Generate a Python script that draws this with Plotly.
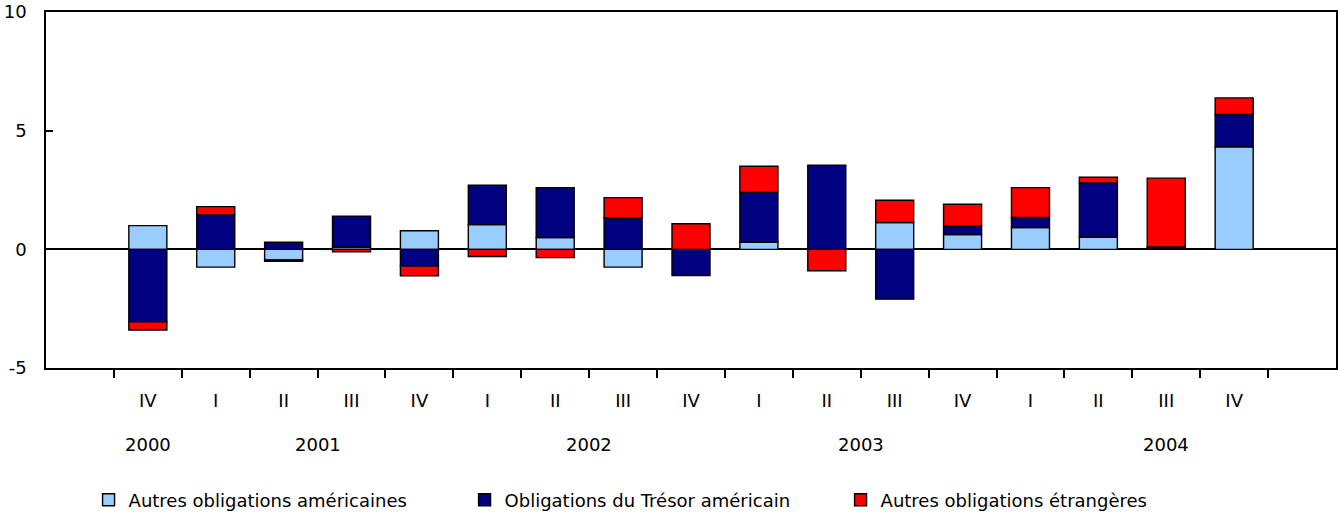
import plotly.graph_objects as go

quarters = ["IV", "I", "II", "III", "IV", "I", "II", "III", "IV",
            "I", "II", "III", "IV", "I", "II", "III", "IV"]
years = ["2000", "2001", "2002", "2003", "2004"]
year_pos = [0, 2.5, 6.5, 10.5, 15]
y_ticks = [-5, 0, 5, 10]
y_ticktext = ["-5", "0", "5", "10"]

autres_us = [1.0, -0.75, -0.45, 0.1, 0.78, 1.04, 0.5, -0.75, 0.0,
             0.3, 0.0, 1.13, 0.62, 0.92, 0.52, 0.05, 4.32]
tresor_us = [-3.05, 1.45, 0.3, 1.3, -0.7, 1.66, 2.1, 1.32, -1.1,
             2.1, 3.55, -2.1, 0.36, 0.42, 2.28, 0.05, 1.36]
autres_etr = [-0.35, 0.35, -0.05, -0.1, -0.42, -0.3, -0.35, 0.86, 1.08,
              1.1, -0.9, 0.94, 0.92, 1.26, 0.24, 2.9, 0.7]

names = ["Autres obligations américaines", "Obligations du Trésor américain",
         "Autres obligations étrangères"]
colors = ["#99CCFF", "#000080", "#FF0000"]
series = [autres_us, tresor_us, autres_etr]

FONT = "DejaVu Sans, Arial, sans-serif"
FS = 18
idx = list(range(len(quarters)))

fig = go.Figure()
for name, col, vals in zip(names, colors, series):
    fig.add_trace(go.Bar(
        x=idx, y=vals, name=name, width=0.56,
        marker=dict(color=col, line=dict(color="black", width=1.4)),
    ))

for yr, pos in zip(years, year_pos):
    fig.add_annotation(x=pos, y=-0.216, xref="x", yref="paper", text=yr,
                       showarrow=False, yanchor="middle", xanchor="center",
                       font=dict(family=FONT, size=FS, color="black"))

fig.update_layout(
    barmode="relative",
    width=1338, height=516,
    margin=dict(l=46, r=2, t=12, b=148, autoexpand=False),
    plot_bgcolor="white", paper_bgcolor="white",
    font=dict(family=FONT, size=FS, color="black"),
    legend=dict(orientation="h", x=0.033, xanchor="left", y=-0.371,
                yanchor="middle", font=dict(family=FONT, size=FS),
                traceorder="normal", entrywidth=331, entrywidthmode="pixels"),
    xaxis=dict(
        range=[-1.5, 17.5], tickmode="array", tickvals=idx, ticktext=quarters,
        ticks="", showline=True, linecolor="black", linewidth=1.5, mirror=True,
        showgrid=False, zeroline=False, ticklabelstandoff=16, automargin=False,
        minor=dict(tickmode="array", tickvals=[i - 0.5 for i in range(len(quarters) + 1)],
                   ticks="outside", ticklen=8, tickwidth=1.5, tickcolor="black",
                   showgrid=False),
    ),
    yaxis=dict(
        range=[-5, 10], tickmode="array", tickvals=y_ticks, ticktext=y_ticktext,
        ticks="inside", ticklen=7, tickwidth=1.5, tickcolor="black",
        showline=True, linecolor="black", linewidth=1.5, mirror=True,
        showgrid=False, zeroline=True, zerolinecolor="black", zerolinewidth=1.5,
        ticklabelstandoff=14, automargin=False,
    ),
)

fig.write_html("out.html", config={"displayModeBar": False},
               post_script="document.body.style.margin='0';document.body.style.overflow='hidden';")
